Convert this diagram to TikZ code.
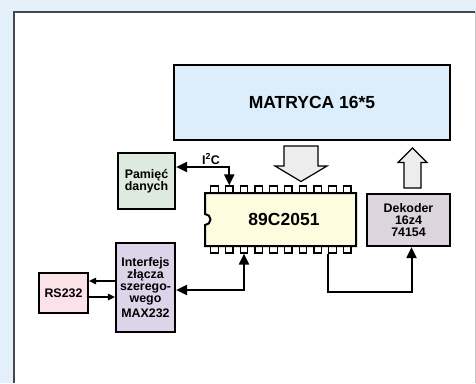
\documentclass[tikz,border=0pt]{standalone}
\usepackage{fontspec}
\setmainfont{Liberation Sans}
\usetikzlibrary{arrows.meta}
\definecolor{bgblue}{HTML}{E3F0FA}
\definecolor{matfill}{HTML}{DCEDFB}
\definecolor{pamfill}{HTML}{DDEADD}
\definecolor{maxfill}{HTML}{DCD5E9}
\definecolor{rsfill}{HTML}{FBE1E8}
\definecolor{chipfill}{HTML}{FEFCDE}
\definecolor{dekfill}{HTML}{DCD5DE}
\definecolor{hollow}{HTML}{EDEDED}
\definecolor{framedark}{HTML}{45494D}
\definecolor{framelight}{HTML}{C8C8C8}
\tikzset{
  box/.style={draw=black, line width=2.2pt, inner sep=0pt, align=center,
    font=\bfseries\fontsize{12.4}{12.3}\selectfont},
  bigtext/.style={font=\bfseries\fontsize{17.5}{20}\selectfont, inner sep=0pt},
  pinbox/.style={draw=black, fill=white, line width=1.2pt, inner sep=0pt,
    minimum width=7.5pt, minimum height=7pt},
  conn/.style={line width=2pt},
  bigtip/.tip={Triangle[length=11pt,width=10pt]},
  thinconn/.style={line width=1.2pt, -{Triangle[length=7pt,width=6.5pt]}},
  hollowarrow/.style={draw=black, fill=hollow, line width=1.2pt, line join=miter}
}
\begin{document}
\begin{tikzpicture}[x=1pt,y=-1pt]
\useasboundingbox (0,0) rectangle (476,383);
\fill[bgblue] (0,0) rectangle (476,383);
\fill[white] (14,12) rectangle (475,383);
\draw[line width=1pt, framelight] (475,12) -- (475,383);
\draw[line width=1.6pt, framedark] (14,383) -- (14,12) -- (475,12);

% boxes
\node[box, fill=matfill, minimum width=276pt, minimum height=75pt] (mat) at (312,102.5)
  {\fontsize{17.5}{20}\selectfont MATRYCA 16*5};
\node[box, fill=pamfill, minimum width=57pt, minimum height=56pt] (pam) at (146.5,181)
  {Pamięć\\danych};
\node[box, fill=maxfill, minimum width=59pt, minimum height=89pt] (max) at (145.5,287.5)
  {Interfejs\\złącza\\szerego-\\wego\\[2.5pt]MAX232};
\node[box, fill=rsfill, minimum width=49pt, minimum height=40pt] (rs) at (63.5,293)
  {RS232};
\node[box, fill=dekfill, minimum width=83pt, minimum height=52pt] (dek) at (408.5,220)
  {Dekoder\\16z4\\74154};

% chip pins
\foreach \i in {1,...,10}{
  \node[pinbox] (pT\i) at ({214.5+(\i-1)*14.75},189.5) {};
  \node[pinbox] (pB\i) at ({214.5+(\i-1)*14.75},249.5) {};
}
% chip body
\filldraw[fill=chipfill, draw=black, line width=2pt]
  (205,193) -- (356,193) -- (356,246) -- (205,246) -- (205,225)
  arc[start angle=90, end angle=-90, radius=5.5] -- cycle;
\node[bigtext] (chip) at (284,219.5) {89C2051};

% hollow arrows
\path[hollowarrow] (284,146) -- (318,146) -- (318,166) -- (327,166) -- (301,181.5)
  -- (275,166) -- (284,166) -- cycle;
\path[hollowarrow] (404,188) -- (421,188) -- (421,162.5) -- (427,162.5) -- (412.5,148)
  -- (398,162.5) -- (404,162.5) -- cycle;

% connectors
\draw[conn, {bigtip}-{bigtip}] ([yshift=14pt]pam.east) -| (pT2.north);
\node[font=\bfseries\fontsize{12.5}{12}\selectfont, inner sep=0pt] (i2c) at (211,159) {I\textsuperscript{2}C};
\draw[conn, {bigtip}-{bigtip}] ([yshift=-2.5pt]max.east) -| (pB3.south);
\draw[conn, -{bigtip}] ([xshift=-4.5pt]pB9.south) -- ++(0,38) -| ([xshift=3pt]dek.south);
\draw[thinconn] ([yshift=12pt]rs.east -| max.west) -- ([yshift=12pt]rs.east);
\draw[thinconn] ([yshift=-4pt]rs.east) -- ([yshift=-4pt]rs.east -| max.west);
\end{tikzpicture}
\end{document}
